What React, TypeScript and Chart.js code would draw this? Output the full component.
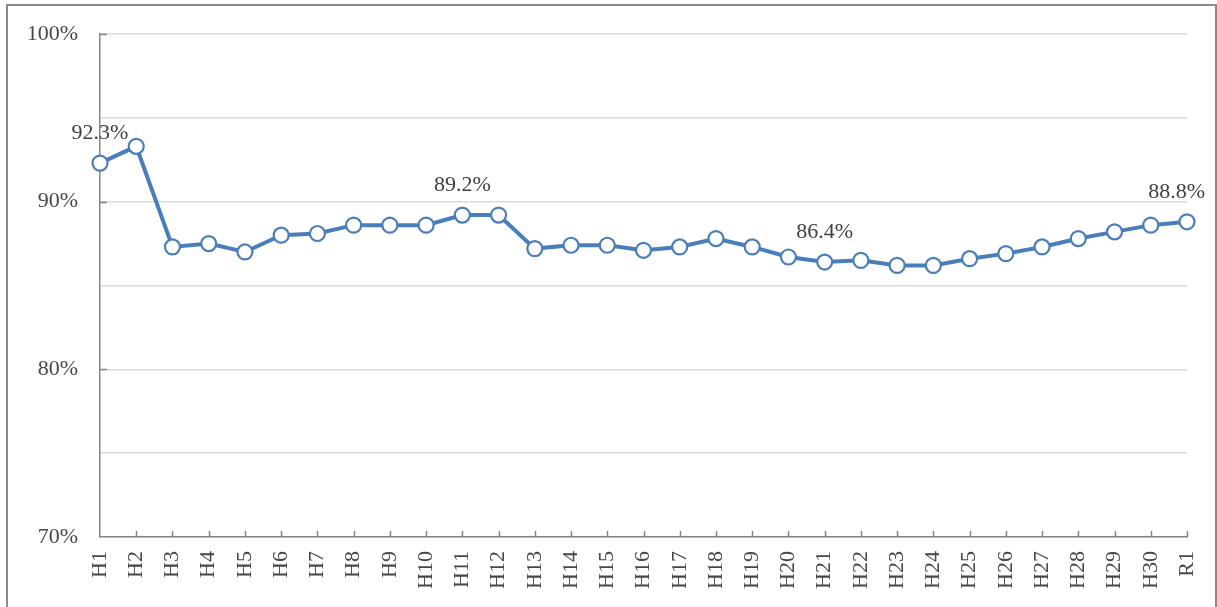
import React, { useEffect, useRef } from "react";
import { Chart, registerables } from "chart.js";

Chart.register(...registerables);

const categories = [
  "H1", "H2", "H3", "H4", "H5", "H6", "H7", "H8", "H9", "H10",
  "H11", "H12", "H13", "H14", "H15", "H16", "H17", "H18", "H19", "H20",
  "H21", "H22", "H23", "H24", "H25", "H26", "H27", "H28", "H29", "H30", "R1",
];

const rates = [
  92.3, 93.3, 87.3, 87.5, 87.0, 88.0, 88.1, 88.6, 88.6, 88.6,
  89.2, 89.2, 87.2, 87.4, 87.4, 87.1, 87.3, 87.8, 87.3, 86.7,
  86.4, 86.5, 86.2, 86.2, 86.6, 86.9, 87.3, 87.8, 88.2, 88.6, 88.8,
];

const labeledIndices = [0, 10, 20, 30];
const yMin = 70;
const yMax = 100;
const yStep = 5;
const labelStep = 10;

const FONT = "'Liberation Serif', 'Times New Roman', serif";
const LINE_COLOR = "#4a7ebb";
const AXIS_COLOR = "#868686";
const TEXT_COLOR = "#474747";
const LABEL_COLOR = "#404040";

const insideTicks = {
  id: "insideTicks",
  beforeDatasetsDraw(chart: any) {
    const { ctx, chartArea, scales } = chart;
    const x = scales.x;
    const y = scales.y;
    ctx.save();
    ctx.strokeStyle = AXIS_COLOR;
    ctx.lineWidth = 1.5;
    ctx.beginPath();
    for (let i = 1; i < categories.length; i++) {
      const px = Math.round(x.getPixelForValue(i)) + 0.5;
      ctx.moveTo(px, chartArea.bottom);
      ctx.lineTo(px, chartArea.bottom - 6);
    }
    for (let v = yMin + labelStep; v <= yMax; v += labelStep) {
      const py = Math.round(y.getPixelForValue(v)) + 0.5;
      ctx.moveTo(chartArea.left, py);
      ctx.lineTo(chartArea.left + 7, py);
    }
    ctx.stroke();
    ctx.restore();
  },
};

const pointLabels = {
  id: "pointLabels",
  afterDatasetsDraw(chart: any) {
    const { ctx } = chart;
    const meta = chart.getDatasetMeta(0);
    ctx.save();
    ctx.font = `22px ${FONT}`;
    ctx.fillStyle = LABEL_COLOR;
    ctx.textAlign = "center";
    ctx.textBaseline = "alphabetic";
    labeledIndices.forEach((i) => {
      const pt = meta.data[i];
      const text = rates[i].toFixed(1) + "%";
      const w = ctx.measureText(text).width;
      let cx = pt.x;
      const maxRight = chart.width - 12;
      if (cx + w / 2 > maxRight) cx = maxRight - w / 2;
      if (cx - w / 2 < 10) cx = 10 + w / 2;
      ctx.fillText(text, cx, pt.y - 24);
    });
    ctx.restore();
  },
};

function LineChart() {
  const ref = useRef<HTMLCanvasElement | null>(null);
  useEffect(() => {
    if (!ref.current) return;
    Chart.defaults.font.family = FONT;
    Chart.defaults.font.size = 22;
    Chart.defaults.color = TEXT_COLOR;
    const chart = new Chart(ref.current, {
      type: "line",
      data: {
        labels: categories,
        datasets: [
          {
            data: rates,
            borderColor: LINE_COLOR,
            borderWidth: 4,
            backgroundColor: "#ffffff",
            pointBackgroundColor: "#ffffff",
            pointBorderColor: LINE_COLOR,
            pointBorderWidth: 2.2,
            pointRadius: 7.5,
            tension: 0,
            clip: false as any,
          },
        ],
      },
      options: {
        animation: false,
        responsive: false,
        events: [],
        layout: { padding: { top: 34, right: 30, left: 0, bottom: 0 } },
        plugins: {
          legend: { display: false },
          tooltip: { enabled: false },
          title: { display: false },
        },
        scales: {
          x: {
            offset: false,
            grid: { display: false, drawTicks: false },
            border: { display: true, color: AXIS_COLOR, width: 1.5 },
            ticks: {
              autoSkip: false,
              minRotation: 90,
              maxRotation: 90,
              padding: 14,
              color: TEXT_COLOR,
              font: { size: 22, family: FONT },
            },
            afterFit: (s: any) => {
              s.height = 70;
              s.paddingRight = 0;
              s.paddingLeft = 0;
            },
          },
          y: {
            min: yMin,
            max: yMax,
            grid: { color: "#d9d9d9", lineWidth: 1.5, drawTicks: false },
            border: { display: true, color: AXIS_COLOR, width: 1.5 },
            ticks: {
              stepSize: yStep,
              padding: 22,
              color: TEXT_COLOR,
              font: { size: 22, family: FONT },
              callback: (v: any) => (Number(v) % labelStep === 0 ? `${v}%` : ""),
            },
            afterFit: (s: any) => {
              s.width = 100;
              s.paddingTop = 0;
              s.paddingBottom = 0;
            },
          },
        },
      },
      plugins: [insideTicks, pointLabels],
    });
    return () => chart.destroy();
  }, []);
  return (
    <canvas
      ref={ref}
      width={1217}
      height={607}
      style={{ position: "absolute", left: 0, top: 0, width: 1217, height: 607 }}
    />
  );
}

export default function App() {
  return (
    <div
      style={{
        position: "fixed",
        left: 0,
        top: 0,
        width: 1217,
        height: 607,
        overflow: "hidden",
        background: "#ffffff",
      }}
    >
      <div
        style={{
          position: "absolute",
          left: 6,
          top: 4,
          width: 1211,
          height: 700,
          boxSizing: "border-box",
          border: "2px solid #8a8a8a",
        }}
      />
      <LineChart />
    </div>
  );
}
